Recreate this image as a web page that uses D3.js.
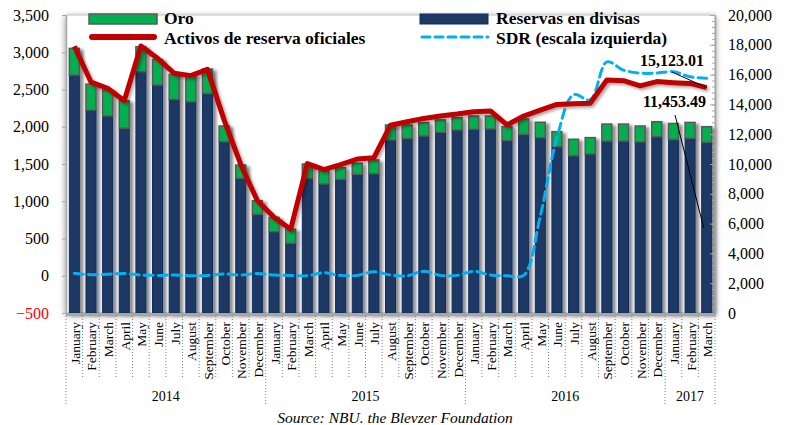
<!DOCTYPE html>
<html>
<head>
<meta charset="utf-8">
<script src="https://cdn.jsdelivr.net/npm/d3@7"></script>
<style>
  body { margin: 0; background: #fff; }
  text { font-family: "Liberation Serif", "Times New Roman", serif; }
</style>
</head>
<body>
<div id="chart"></div>
<script>
// Monthly data, Jan 2014 - Mar 2017 (million USD)
var months = ["January","February","March","April","May","June","July","August","September","October","November","December",
              "January","February","March","April","May","June","July","August","September","October","November","December",
              "January","February","March","April","May","June","July","August","September","October","November","December",
              "January","February","March"];
var yearLabels = ["2014", "2015", "2016", "2017"];
var yearCounts = [12, 12, 12, 3];

// Reservas en divisas (right scale)
var divisas = [15970,13620,13220,12400,16190,15300,14340,14180,14740,11500,9040,6620,
               5460,4680,9040,8660,8970,9310,9350,11610,11720,11880,12130,12280,
               12330,12350,11570,11990,11770,11160,10560,10670,11540,11540,11480,11830,
               11650,11720,11453.49];
// Oro (right scale, stacked on divisas)
var oro = [1790,1740,1750,1850,1680,1720,1680,1750,1630,1050,890,920,
           960,940,960,870,780,740,920,1010,900,900,830,830,
           890,870,940,1030,1030,1010,1100,1100,1140,1140,1070,1010,
           1070,1070,1050];
// Activos de reserva oficiales (right scale)
var activos = [17900,15500,15080,14250,17920,17090,16090,15930,16350,12960,9970,7530,
               6420,5620,10030,9620,9960,10330,10420,12600,12840,13060,13220,13350,
               13510,13560,12620,13220,13620,14000,14050,14080,15640,15590,15240,15530,
               15460,15410,15123.01];
// SDR (left scale)
var sdr = [33,15,20,30,10,5,10,0,5,25,10,30,
           10,5,0,40,5,5,55,10,0,60,5,5,
           60,10,0,5,800,1850,2430,2360,2870,2760,2720,2720,
           2740,2670,2650];

var width = 786, height = 425,
    plot = {left: 66, right: 715, top: 15, bottom: 313};

var svg = d3.select("#chart").append("svg")
  .attr("width", width)
  .attr("height", height);

var defs = svg.append("defs");
function shadow(id, dx, dy, sd, op) {
  var f = defs.append("filter").attr("id", id)
    .attr("x", "-20%").attr("y", "-20%").attr("width", "140%").attr("height", "140%");
  f.append("feDropShadow").attr("dx", dx).attr("dy", dy).attr("stdDeviation", sd)
    .attr("flood-color", "#000").attr("flood-opacity", op);
}
shadow("frameShadow", 0, 2, 3, 0.45);
shadow("barShadow", 3.5, 2, 1.6, 0.45);
shadow("lineShadow", 2, 2, 1.5, 0.35);

var x = d3.scaleBand()
  .domain(d3.range(months.length))
  .range([plot.left, plot.right])
  .paddingInner(0.4)
  .paddingOuter(0.2);

var yR = d3.scaleLinear().domain([0, 20000]).range([plot.bottom, plot.top]);
var yL = d3.scaleLinear().domain([-500, 3500]).range([plot.bottom, plot.top]);

function cx(i) { return x(i) + x.bandwidth() / 2; }
function edge(i) { return cx(i) - x.step() / 2; }

// plot frame with soft shadow
svg.append("rect")
  .attr("x", plot.left).attr("y", plot.top)
  .attr("width", plot.right - plot.left).attr("height", plot.bottom - plot.top)
  .attr("fill", "#fff").attr("stroke", "#BFBFBF").attr("stroke-width", 1)
  .attr("filter", "url(#frameShadow)");

// stacked bars
var bars = svg.append("g").attr("filter", "url(#barShadow)");
bars.selectAll("rect.div")
  .data(divisas)
  .enter().append("rect")
    .attr("class", "div")
    .attr("x", function(d, i) { return x(i); })
    .attr("y", function(d) { return yR(d); })
    .attr("width", x.bandwidth())
    .attr("height", function(d) { return yR(0) - yR(d); })
    .attr("fill", "#1F3864")
    .attr("stroke", "#0B2A66").attr("stroke-width", 1);

bars.selectAll("rect.oro")
  .data(oro)
  .enter().append("rect")
    .attr("class", "oro")
    .attr("x", function(d, i) { return x(i); })
    .attr("y", function(d, i) { return yR(divisas[i] + d); })
    .attr("width", x.bandwidth())
    .attr("height", function(d, i) { return yR(divisas[i]) - yR(divisas[i] + d); })
    .attr("fill", "#00B050")
    .attr("stroke", "#595959").attr("stroke-width", 1.5);

// SDR dashed smooth line (left scale)
var sdrLine = d3.line()
  .x(function(d, i) { return cx(i); })
  .y(function(d) { return yL(d); })
  .curve(d3.curveCatmullRom.alpha(0.5));

svg.append("path")
  .datum(sdr)
  .attr("d", sdrLine)
  .attr("fill", "none")
  .attr("stroke", "#00B0F0")
  .attr("stroke-width", 3)
  .attr("stroke-dasharray", "9,5")
  .attr("stroke-linecap", "round");

// Activos line (right scale)
var actLine = d3.line()
  .x(function(d, i) { return cx(i); })
  .y(function(d) { return yR(d); });

svg.append("path")
  .datum(activos)
  .attr("d", actLine)
  .attr("fill", "none")
  .attr("stroke", "#C00000")
  .attr("stroke-width", 5)
  .attr("stroke-linejoin", "round")
  .attr("filter", "url(#lineShadow)");

// left axis
var leftAxis = svg.append("g")
  .attr("transform", "translate(" + plot.left + ",0)")
  .call(d3.axisLeft(yL).tickValues(d3.range(-500, 3501, 500))
    .tickFormat(d3.format(",")).tickSize(4).tickSizeOuter(0).tickPadding(13));
leftAxis.select(".domain").attr("stroke", "#A6A6A6").attr("stroke-width", 1.5);
leftAxis.selectAll(".tick line").attr("stroke", "#A6A6A6");
leftAxis.selectAll(".tick text")
  .attr("font-size", 16)
  .attr("font-family", "Liberation Serif")
  .attr("fill", function(d) { return d < 0 ? "#FF0000" : "#000"; });

// right axis: minor + major ticks
var rightMinor = svg.append("g")
  .attr("transform", "translate(" + plot.right + ",0)")
  .call(d3.axisRight(yR).tickValues(d3.range(0, 20001, 400)).tickSize(-3).tickSizeOuter(0).tickFormat(""));
rightMinor.select(".domain").remove();
rightMinor.selectAll(".tick line").attr("stroke", "#A6A6A6");

var rightAxis = svg.append("g")
  .attr("transform", "translate(" + plot.right + ",0)")
  .call(d3.axisRight(yR).tickValues(d3.range(0, 20001, 2000))
    .tickFormat(d3.format(",")).tickSize(-5).tickSizeOuter(0).tickPadding(13));
rightAxis.select(".domain").attr("stroke", "#A6A6A6").attr("stroke-width", 1.5);
rightAxis.selectAll(".tick line").attr("stroke", "#A6A6A6");
rightAxis.selectAll(".tick text")
  .attr("font-size", 16)
  .attr("font-family", "Liberation Serif")
  .attr("fill", "#000");

// bottom axis band
svg.append("line")
  .attr("x1", plot.left).attr("x2", plot.right)
  .attr("y1", plot.bottom + 1.5).attr("y2", plot.bottom + 1.5)
  .attr("stroke", "#A6A6A6").attr("stroke-width", 3);

// category dividers (dotted), year dividers longer
var yearStarts = [0];
yearCounts.forEach(function(n, k) { yearStarts.push(yearStarts[k] + n); });

var dividers = svg.append("g");
d3.range(months.length + 1).forEach(function(i) {
  var isYear = yearStarts.indexOf(i) >= 0;
  var xx = i < months.length ? edge(i) : plot.right;
  dividers.append("line")
    .attr("x1", xx).attr("x2", xx)
    .attr("y1", plot.bottom + 3).attr("y2", isYear ? 404 : 378)
    .attr("stroke", "#808080").attr("stroke-width", 1)
    .attr("stroke-dasharray", "1,2");
});

// month labels
svg.append("g").selectAll("text")
  .data(months)
  .enter().append("text")
    .attr("transform", function(d, i) { return "translate(" + (cx(i) + 1) + ",322) rotate(-90)"; })
    .attr("text-anchor", "end")
    .attr("dominant-baseline", "central")
    .attr("font-size", 13.5)
    .attr("fill", "#000")
    .text(function(d) { return d; });

// year labels
svg.append("g").selectAll("text")
  .data(yearLabels)
  .enter().append("text")
    .attr("x", function(d, k) {
      var a = edge(yearStarts[k]);
      var b = yearStarts[k + 1] < months.length ? edge(yearStarts[k + 1]) : plot.right;
      return (a + b) / 2;
    })
    .attr("y", 401)
    .attr("text-anchor", "middle")
    .attr("font-size", 14)
    .attr("fill", "#000")
    .text(function(d) { return d; });

// legend
var legend = svg.append("g");
legend.append("rect").attr("x", 89).attr("y", 14).attr("width", 68).attr("height", 10)
  .attr("fill", "#00B050").attr("stroke", "#595959").attr("stroke-width", 1.5);
legend.append("text").attr("x", 164).attr("y", 23.5).text("Oro");
legend.append("line").attr("x1", 92).attr("x2", 154).attr("y1", 37).attr("y2", 37)
  .attr("stroke", "#C00000").attr("stroke-width", 6).attr("stroke-linecap", "round");
legend.append("text").attr("x", 164).attr("y", 43.5).text("Activos de reserva oficiales");

legend.append("rect").attr("x", 420).attr("y", 14).attr("width", 68).attr("height", 10)
  .attr("fill", "#1F3864").attr("stroke", "#0B2A66").attr("stroke-width", 1);
legend.append("text").attr("x", 496).attr("y", 23.5).text("Reservas en divisas");
legend.append("line").attr("x1", 422).attr("x2", 488).attr("y1", 37).attr("y2", 37)
  .attr("stroke", "#00B0F0").attr("stroke-width", 3).attr("stroke-dasharray", "8,5")
  .attr("stroke-linecap", "round");
legend.append("text").attr("x", 496).attr("y", 43.5).text("SDR (escala izquierda)");
legend.selectAll("text").attr("font-size", 17.5).attr("font-weight", "bold").attr("fill", "#000");

// annotations
var last = months.length - 1;
var ann = svg.append("g");
ann.append("text").attr("x", 640).attr("y", 66).text(d3.format(",.2f")(activos[last]));
ann.append("line")
  .attr("x1", 672).attr("y1", 72)
  .attr("x2", cx(last)).attr("y2", yR(activos[last]))
  .attr("stroke", "#000").attr("stroke-width", 1);
ann.append("text").attr("x", 643).attr("y", 107).text(d3.format(",.2f")(divisas[last]));
ann.append("line")
  .attr("x1", 675).attr("y1", 115)
  .attr("x2", cx(last) - 3).attr("y2", yR(divisas[last] / 2))
  .attr("stroke", "#000").attr("stroke-width", 1);
ann.selectAll("text").attr("font-size", 16).attr("font-weight", "bold").attr("fill", "#000");

// source
svg.append("text")
  .attr("x", 395).attr("y", 423)
  .attr("text-anchor", "middle")
  .attr("font-size", 15.5)
  .attr("font-style", "italic")
  .attr("fill", "#000")
  .text("Source: NBU. the Blevzer Foundation");
</script>
</body>
</html>
